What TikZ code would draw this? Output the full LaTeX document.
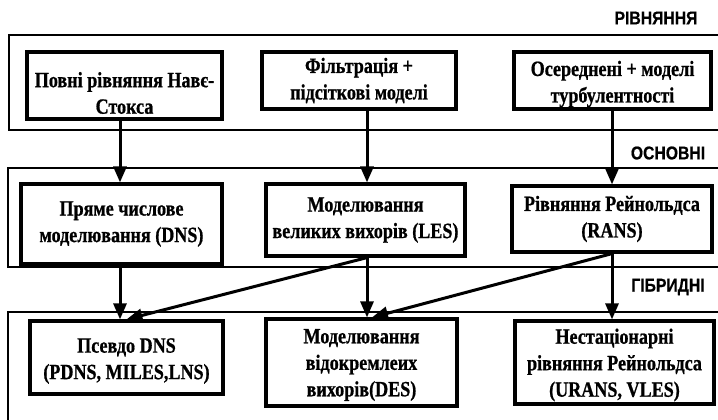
\documentclass[tikz,border=0pt]{standalone}
\usepackage{fontspec}
\setmainfont{Liberation Serif}[FakeStretch=0.83, BoldFeatures={FakeBold=0.8}]
\newfontfamily\labfont{Liberation Sans}[FakeStretch=0.85, BoldFeatures={FakeBold=0.5}]
\usetikzlibrary{arrows.meta,calc}
\begin{document}
\begin{tikzpicture}[x=1pt,y=-1pt,
  box/.style={draw, line width=3.2pt, align=center, inner sep=0pt,
    font=\fontsize{21.8}{26.5}\selectfont\bfseries},
  boxonly/.style={draw, line width=3.2pt, inner sep=0pt},
  txt/.style={align=center, inner sep=0pt, font=\fontsize{21.8}{26.5}\selectfont\bfseries},
  band/.style={line width=1.9pt},
  arr/.style={line width=3pt, -{Triangle[length=16pt,width=13pt]}},
  lab/.style={font=\labfont\fontsize{18.5}{20}\selectfont\bfseries, inner sep=0pt}]
\useasboundingbox (0,0) rectangle (718,420);
% bands
\draw[band] (730,35) -- (9,35) -- (9,130) -- (730,130);
\draw[band] (730,168) -- (8,168) -- (8,267) -- (730,267);
\draw[band] (730,312) -- (8,312) -- (8,430);
% labels
\node[lab] (l1) at (656,18) {РІВНЯННЯ};
\node[lab] (l2) at (668,153) {ОСНОВНІ};
\node[lab] (l3) at (668,287) {ГІБРИДНІ};
% column coordinates
\coordinate (c1) at (120,0);
\coordinate (c2) at (367,0);
\coordinate (c3) at (612,0);
% row 1
\node[boxonly, minimum width=195pt, minimum height=67pt] (A) at (124.5,85.5) {};
\node[txt] (At) at (124.5,93) {Повні рівняння Навє-\\Стокса};
\node[box, minimum width=194pt, minimum height=57pt] (B) at (359,80.5) {Фільтрація +\\підсіткові моделі};
\node[boxonly, minimum width=197pt, minimum height=57pt] (C) at (612.5,80.5) {};
\node[txt] (Ct) at (612.5,84) {Осереднені + моделі\\турбулентності};
% row 2
\node[box, minimum width=201pt, minimum height=80pt] (D) at (121.5,224) {Пряме числове\\моделювання (DNS)};
\node[box, minimum width=199pt, minimum height=72pt] (E) at (365.5,220) {Моделювання\\великих вихорів (LES)};
\node[box, minimum width=200pt, minimum height=66pt] (F) at (612,219) {Рівняння Рейнольдса\\(RANS)};
% row 3
\node[boxonly, minimum width=193pt, minimum height=73pt] (G) at (126.5,357.5) {};
\node[txt] (Gt) at (126.5,361) {Псевдо DNS\\(PDNS, MILES,LNS)};
\node[boxonly, minimum width=191pt, minimum height=87pt] (H) at (361.5,362.5) {};
\node[txt] (Ht) at (361.5,365) {Моделювання\\відокремлеих\\вихорів(DES)};
\node[boxonly, minimum width=199pt, minimum height=83pt] (I) at (614.5,362.5) {};
\node[txt] (It) at (614.5,365) {Нестаціонарні\\рівняння Рейнольдса\\(URANS, VLES)};
% arrows
\draw[arr] (A.south -| c1) -- (D.north -| c1);
\draw[arr] (B.south -| c2) -- (E.north -| c2);
\draw[arr] (C.south -| c3) -- (F.north -| c3);
\draw[arr] (D.south -| c1) -- (G.north -| c1);
\draw[arr] (E.south -| c2) -- (G.north);
\draw[arr] (E.south -| c2) -- (H.north -| c2);
\draw[arr] (F.south -| c3) -- ($(H.north -| c2)+(5,0)$);
\draw[arr] (F.south -| c3) -- (I.north -| c3);
\end{tikzpicture}
\end{document}
